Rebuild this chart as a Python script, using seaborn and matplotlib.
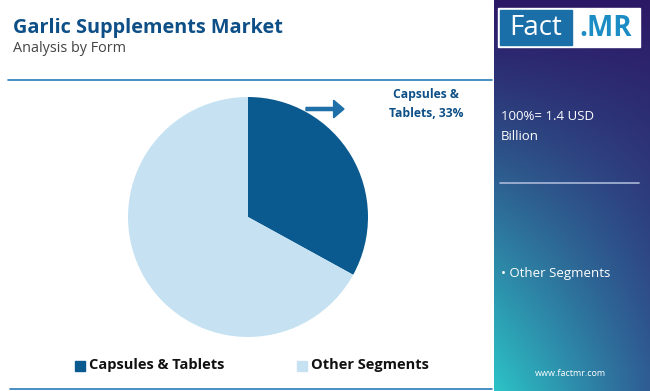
import numpy as np
import matplotlib
matplotlib.use("Agg")
import matplotlib.pyplot as plt
import seaborn as sns
from matplotlib.patches import Rectangle, FancyArrow
from matplotlib.lines import Line2D

# data
segments = ["Capsules & Tablets", "Other Segments"]
shares = [33, 67]
colors = ["#0b5a8f", "#c6e2f2"]
total_label = "100%= 1.4 USD\nBillion"

sns.set_theme(style="white")
plt.rcParams['font.family'] = ['Open Sans', 'DejaVu Sans']

W, H = 650, 391
fig = plt.figure(figsize=(W / 100, H / 100), dpi=100)
fig.patch.set_facecolor("white")

# ---- right side gradient panel ----
bg = fig.add_axes([494 / W, 0, (W - 494) / W, 1])
ny, nx = 200, 80
yy, xx = np.mgrid[0:1:ny * 1j, 0:1:nx * 1j]
top = np.array([0x2c, 0x19, 0x66]) / 255
teal = np.array([0x2c, 0xc3, 0xc6]) / 255
navy = np.array([0x2f, 0x5c, 0x93]) / 255
t = np.clip(yy * 1.05, 0, 1)[..., None]          # 0 top -> 1 bottom
s = np.clip((1 - xx) * yy ** 1.6, 0, 1)[..., None]
base = top * (1 - t) + navy * t
img = base * (1 - s) + teal * s
bg.imshow(img, aspect="auto", extent=[0, 1, 0, 1], origin="upper")
bg.set_axis_off()

# ---- pie ----
ax = fig.add_axes([128 / W, 1 - 337 / H, 240 / W, 240 / H])
ax.pie(shares, colors=colors, startangle=90, counterclock=False,
       wedgeprops=dict(linewidth=0))
ax.set_xlim(-1, 1)
ax.set_ylim(-1, 1)
ax.set_aspect("equal")
ax.set_axis_off()

# ---- texts & decorations on figure coords ----
def fx(px):
    return px / W

def fy(py):
    return 1 - py / H

fig.text(fx(13), fy(28), "Garlic Supplements Market", fontsize=14.3, fontweight="bold",
         color="#0d4f86", va="center", ha="left")
fig.text(fx(13), fy(48), "Analysis by Form", fontsize=10.4, color="#444444",
         va="center", ha="left")

fig.add_artist(Line2D([fx(8), fx(492)], [fy(80), fy(80)], color="#2a7ab8", lw=1.2))
fig.add_artist(Line2D([fx(10), fx(492)], [fy(389), fy(389)], color="#2a7ab8", lw=1.2))

fig.add_artist(FancyArrow(fx(306), fy(109), fx(344) - fx(306), 0, width=0.008,
                          head_width=0.045, head_length=0.016,
                          length_includes_head=True, color="#1f6fa8",
                          transform=fig.transFigure))
fig.text(fx(426), fy(104), "Capsules &\nTablets, 33%", fontsize=8.7, fontweight="bold",
         color="#0d4f86", ha="center", va="center", linespacing=1.6)

# legend
lx = [75, 297]
for x0, lab, c in zip(lx, segments, colors):
    fig.add_artist(Rectangle((fx(x0), fy(371)), fx(10), 10 / H, color=c,
                             transform=fig.transFigure))
    fig.text(fx(x0 + 14), fy(365), lab, fontsize=10.5, fontweight="bold",
             color="#111111", ha="left", va="center")

# logo
fig.add_artist(Rectangle((fx(498), fy(47)), fx(142), 39 / H, color="white",
                         transform=fig.transFigure))
fig.add_artist(Rectangle((fx(500), fy(45)), fx(72), 35 / H, color="#1b6fa8",
                         transform=fig.transFigure))
fig.text(fx(536), fy(28), "Fact", fontsize=20, color="white", ha="center", va="center")
fig.text(fx(606), fy(28), ".MR", fontsize=20, fontweight="bold", color="#1b8cc4",
         ha="center", va="center")

fig.text(fx(501), fy(127), total_label, fontsize=9.5, color="white", ha="left",
         va="center", linespacing=1.7)
fig.add_artist(Line2D([fx(500), fx(639)], [fy(183), fy(183)], color="#a9b8d8", lw=1.2))
fig.text(fx(501), fy(274), "• " + segments[1], fontsize=9.5, color="white",
         ha="left", va="center")
fig.text(fx(570), fy(373), "www.factmr.com", fontsize=6.5, color="white",
         ha="center", va="center")

fig.savefig("out.png", dpi=100)
